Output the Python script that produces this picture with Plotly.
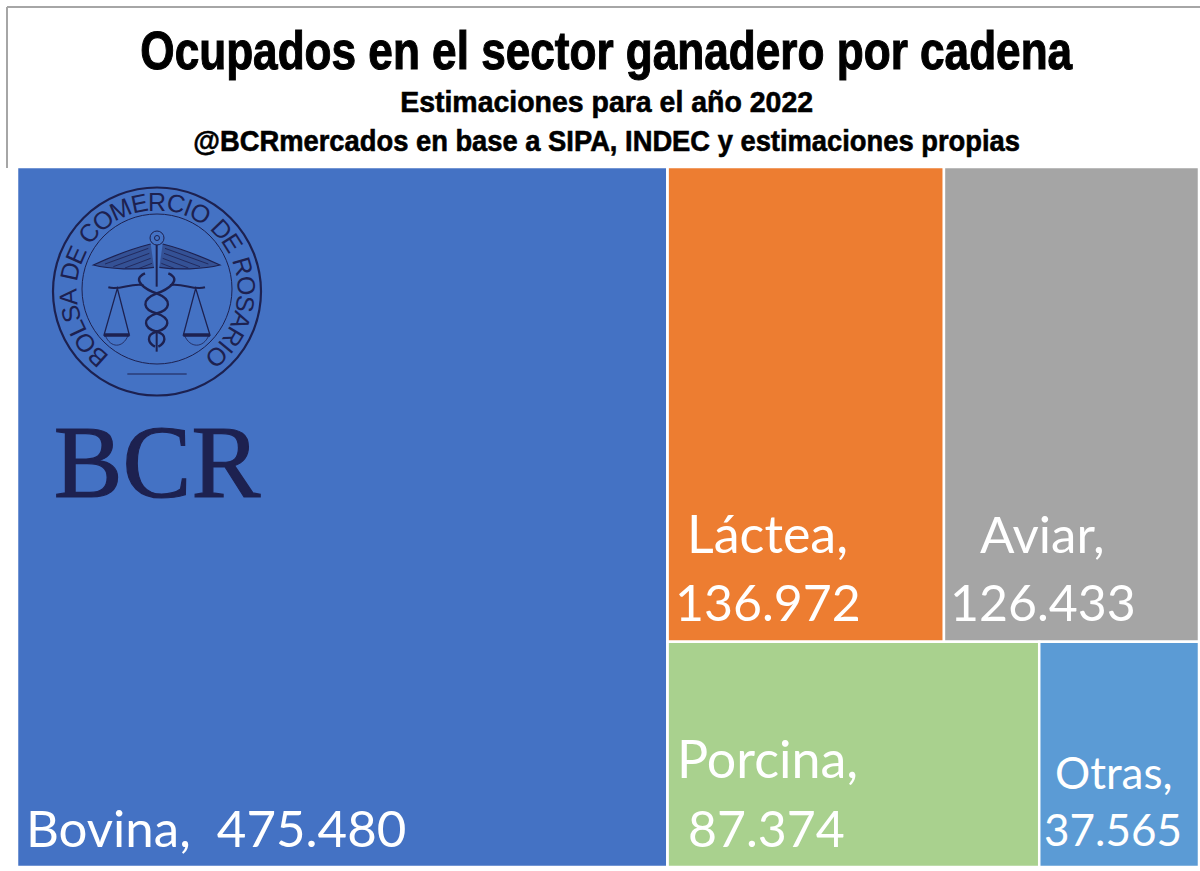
import json
import math
import plotly.graph_objects as go

CATEGORIES = ["Bovina", "Láctea", "Aviar", "Porcina", "Otras"]
VALUES = [475480, 136972, 126433, 87374, 37565]
COLORS = ["#4472C4", "#ED7D31", "#A5A5A5", "#A9D18E", "#5B9BD5"]

TITLE = "Ocupados en el sector ganadero por cadena"
SUBTITLE_1 = "Estimaciones para el año 2022"
SUBTITLE_2 = "@BCRmercados en base a SIPA, INDEC y estimaciones propias"
LOGO_RING = "BOLSA DE COMERCIO DE ROSARIO"
LOGO_MARK = "BCR"

W, H = 1200, 871
NAVY = "#1D2150"
RING_WIDTHS = {"B": .667, "O": .778, "L": .556, "S": .667, "A": .667, " ": .278, "D": .722,
               "E": .667, "C": .722, "M": .833, "R": .722, "I": .278}


def fmt(v):
    return f"{v:,}".replace(",", ".")


def px(x):
    return x / W


def py(y):
    return 1 - y / H


def zx(x, y):
    """Logo drawing helper: crop coordinates to paper coordinates."""
    return f"{px(30 + x / 3):.5f} {py(170 + y / 3):.5f}"


def poly(points, close=False):
    s = "M " + " L ".join(zx(*p) for p in points)
    return s + (" Z" if close else "")


def curve(points):
    s = "M " + zx(*points[0])
    for i in range(1, len(points) - 2, 3):
        s += " C " + " ".join(zx(*p) for p in points[i:i + 3])
    return s


lact_av = VALUES[1] + VALUES[2]
porc_ot = VALUES[3] + VALUES[4]
rest = lact_av + porc_ot
total = VALUES[0] + rest

ids = ["root", "Bovina", "rest", "top", "Láctea", "Aviar", "bottom", "Porcina", "Otras"]
parents = ["", "root", "root", "rest", "top", "top", "rest", "bottom", "bottom"]
vals = [total, VALUES[0], rest, lact_av, VALUES[1], VALUES[2], porc_ot, VALUES[3], VALUES[4]]
cols = ["#FFFFFF", COLORS[0], "#FFFFFF", "#FFFFFF", COLORS[1], COLORS[2], "#FFFFFF", COLORS[3], COLORS[4]]

fig = go.Figure(go.Treemap(
    ids=ids, labels=ids, parents=parents, values=vals,
    branchvalues="total", sort=False,
    textinfo="none", hoverinfo="label+value",
    tiling=dict(packing="slice-dice", pad=0),
    pathbar=dict(visible=False),
    marker=dict(colors=cols, line=dict(color="#FFFFFF", width=2.5), pad=dict(t=0, l=0, r=0, b=0)),
    domain=dict(x=[px(17), px(1199)], y=[py(867), py(167)]),
))

ann = []


def text(x, y, t, size, color="white", family="Lato", anchor="center", **kw):
    ann.append(dict(x=px(x), y=py(y), xref="paper", yref="paper", text=t, showarrow=False,
                    xanchor=anchor, yanchor="middle",
                    font=dict(size=size, color=color, family=family, **kw)))


HEAD = "Liberation Sans"
text(606, 50, TITLE, 54, "black", HEAD, weight="bold")
text(606, 102, SUBTITLE_1, 30, "black", HEAD, weight="bold")
text(606, 141, SUBTITLE_2, 30, "black", HEAD, weight="bold")

name = {c: c + "," for c in CATEGORIES}
num = {c: fmt(v) for c, v in zip(CATEGORIES, VALUES)}
text(24, 827, f"{name['Bovina']}  {num['Bovina']}", 51, anchor="left")
text(767, 533, name["Láctea"], 52)
text(768, 602, num["Láctea"], 50)
text(1042, 533, name["Aviar"], 51)
text(1043, 602, num["Aviar"], 50)
text(767, 758, name["Porcina"], 52)
text(766, 828, num["Porcina"], 50)
text(1113, 772, name["Otras"], 44)
text(1113, 829, num["Otras"], 44)

# logo
text(157, 462, LOGO_MARK, 103, NAVY, "Liberation Serif")
cx, cy, r_text = 157, 291, 89.5
start, end = -138, 138
widths = [RING_WIDTHS[c] for c in LOGO_RING]
span = sum(widths) - (widths[0] + widths[-1]) / 2
run = 0.0
for i, ch in enumerate(LOGO_RING):
    if i:
        run += (widths[i - 1] + widths[i]) / 2
    a = start + (end - start) * run / span
    ra = math.radians(a)
    ann.append(dict(x=px(cx + r_text * math.sin(ra)), y=py(cy - r_text * math.cos(ra)),
                    xref="paper", yref="paper", text=ch, showarrow=False, textangle=a,
                    xanchor="center", yanchor="middle",
                    font=dict(size=25, color=NAVY, family="Liberation Sans")))

shapes = []


def circle(c_x, c_y, r, width, fill="rgba(0,0,0,0)"):
    shapes.append(dict(type="circle", xref="paper", yref="paper",
                       x0=px(c_x - r), x1=px(c_x + r), y0=py(c_y + r), y1=py(c_y - r),
                       line=dict(color=NAVY, width=width), fillcolor=fill, layer="above"))


def path(d, width=1.0, fill="rgba(0,0,0,0)"):
    shapes.append(dict(type="path", xref="paper", yref="paper", path=d,
                       line=dict(color=NAVY, width=width), fillcolor=fill, layer="above"))


# page frame
for a, b, c, d in [(7, 7, 1200, 7), (7, 7, 7, 168)]:
    shapes.append(dict(type="line", xref="paper", yref="paper", x0=px(a), y0=py(b), x1=px(c), y1=py(d),
                       line=dict(color="#A6A6A6", width=2)))

circle(157, 291.5, 104, 2.2)
circle(157, 289, 75, 1)
circle(157, 238, 7, 1)
circle(157, 238, 2.5, 1)
path(poly([(380, 225), (380, 350)]), 2)
path(poly([(380, 480), (380, 545)]), 2)
for s in (-1, 1):
    m = lambda x: 380 + s * (x - 380)
    # wing
    path(curve([(m(362), 222), (m(310), 235), (m(240), 262), (m(190), 285),
                (m(240), 298), (m(320), 300), (m(372), 292)]), 1.2, "rgba(29,33,80,0.4)")
    for a, b in [((355, 235), (225, 282)), ((358, 250), (250, 290)), ((362, 265), (285, 294)), ((366, 280), (325, 296))]:
        path(poly([(m(a[0]), a[1]), (m(b[0]), b[1])]), 0.8)
    # beam
    path(curve([(m(340), 345), (m(300), 338), (m(270), 362), (m(235), 352)]), 2)
    # scale
    ax = 262 if s == -1 else 497
    lx, rx = (222, 298) if s == -1 else (460, 540)
    path(poly([(ax, 355), (lx, 495), (rx, 495)], True), 1.3)
    path(poly([(lx, 495), (rx, 495)]), 3.5)
    path(curve([(lx + 4, 497), (lx + 20, 535), (rx - 20, 535), (rx - 4, 497)]), 0.8)
# snakes
for sg in (-1, 1):
    m = lambda x: 380 + sg * (x - 380)
    path(curve([(m(345), 310), (m(300), 330), (m(350), 360), (m(380), 370),
                (m(430), 390), (m(420), 420), (m(380), 430),
                (m(335), 445), (m(340), 475), (m(380), 485),
                (m(415), 495), (m(405), 520), (m(385), 530)]), 2.4)
path(poly([(292, 612), (470, 612)]), 1.2)

fig.update_layout(
    width=W, height=H, margin=dict(l=0, r=0, t=0, b=0),
    paper_bgcolor="white", annotations=ann, shapes=shapes, showlegend=False,
)

# The reference's heading face is condensed and heavy: scale the heading lines to their measured widths.
HEAD_FIT = {TITLE: [933, 1.1], SUBTITLE_1: [413, 0.6], SUBTITLE_2: [827, 0.6], LOGO_MARK: [207, 1.2]}
squeeze = """
document.body.style.margin='0';
var fit = %s;
document.querySelectorAll('.annotation-text').forEach(function(t){
  var f = fit[t.textContent];
  if (f) {
    var b = t.getBBox();
    var c = b.x + b.width / 2;
    var k = f[0] / b.width;
    var old = t.getAttribute('transform') || '';
    t.setAttribute('transform', old + ' translate(' + c + ',0) scale(' + k + ',1) translate(' + (-c) + ',0)');
    t.style.stroke = t.style.fill;
    t.style.strokeWidth = f[1] + 'px';
  }
});
""" % json.dumps(HEAD_FIT, ensure_ascii=False)
fig.write_html("out.html", post_script=squeeze, config=dict(displayModeBar=False))
